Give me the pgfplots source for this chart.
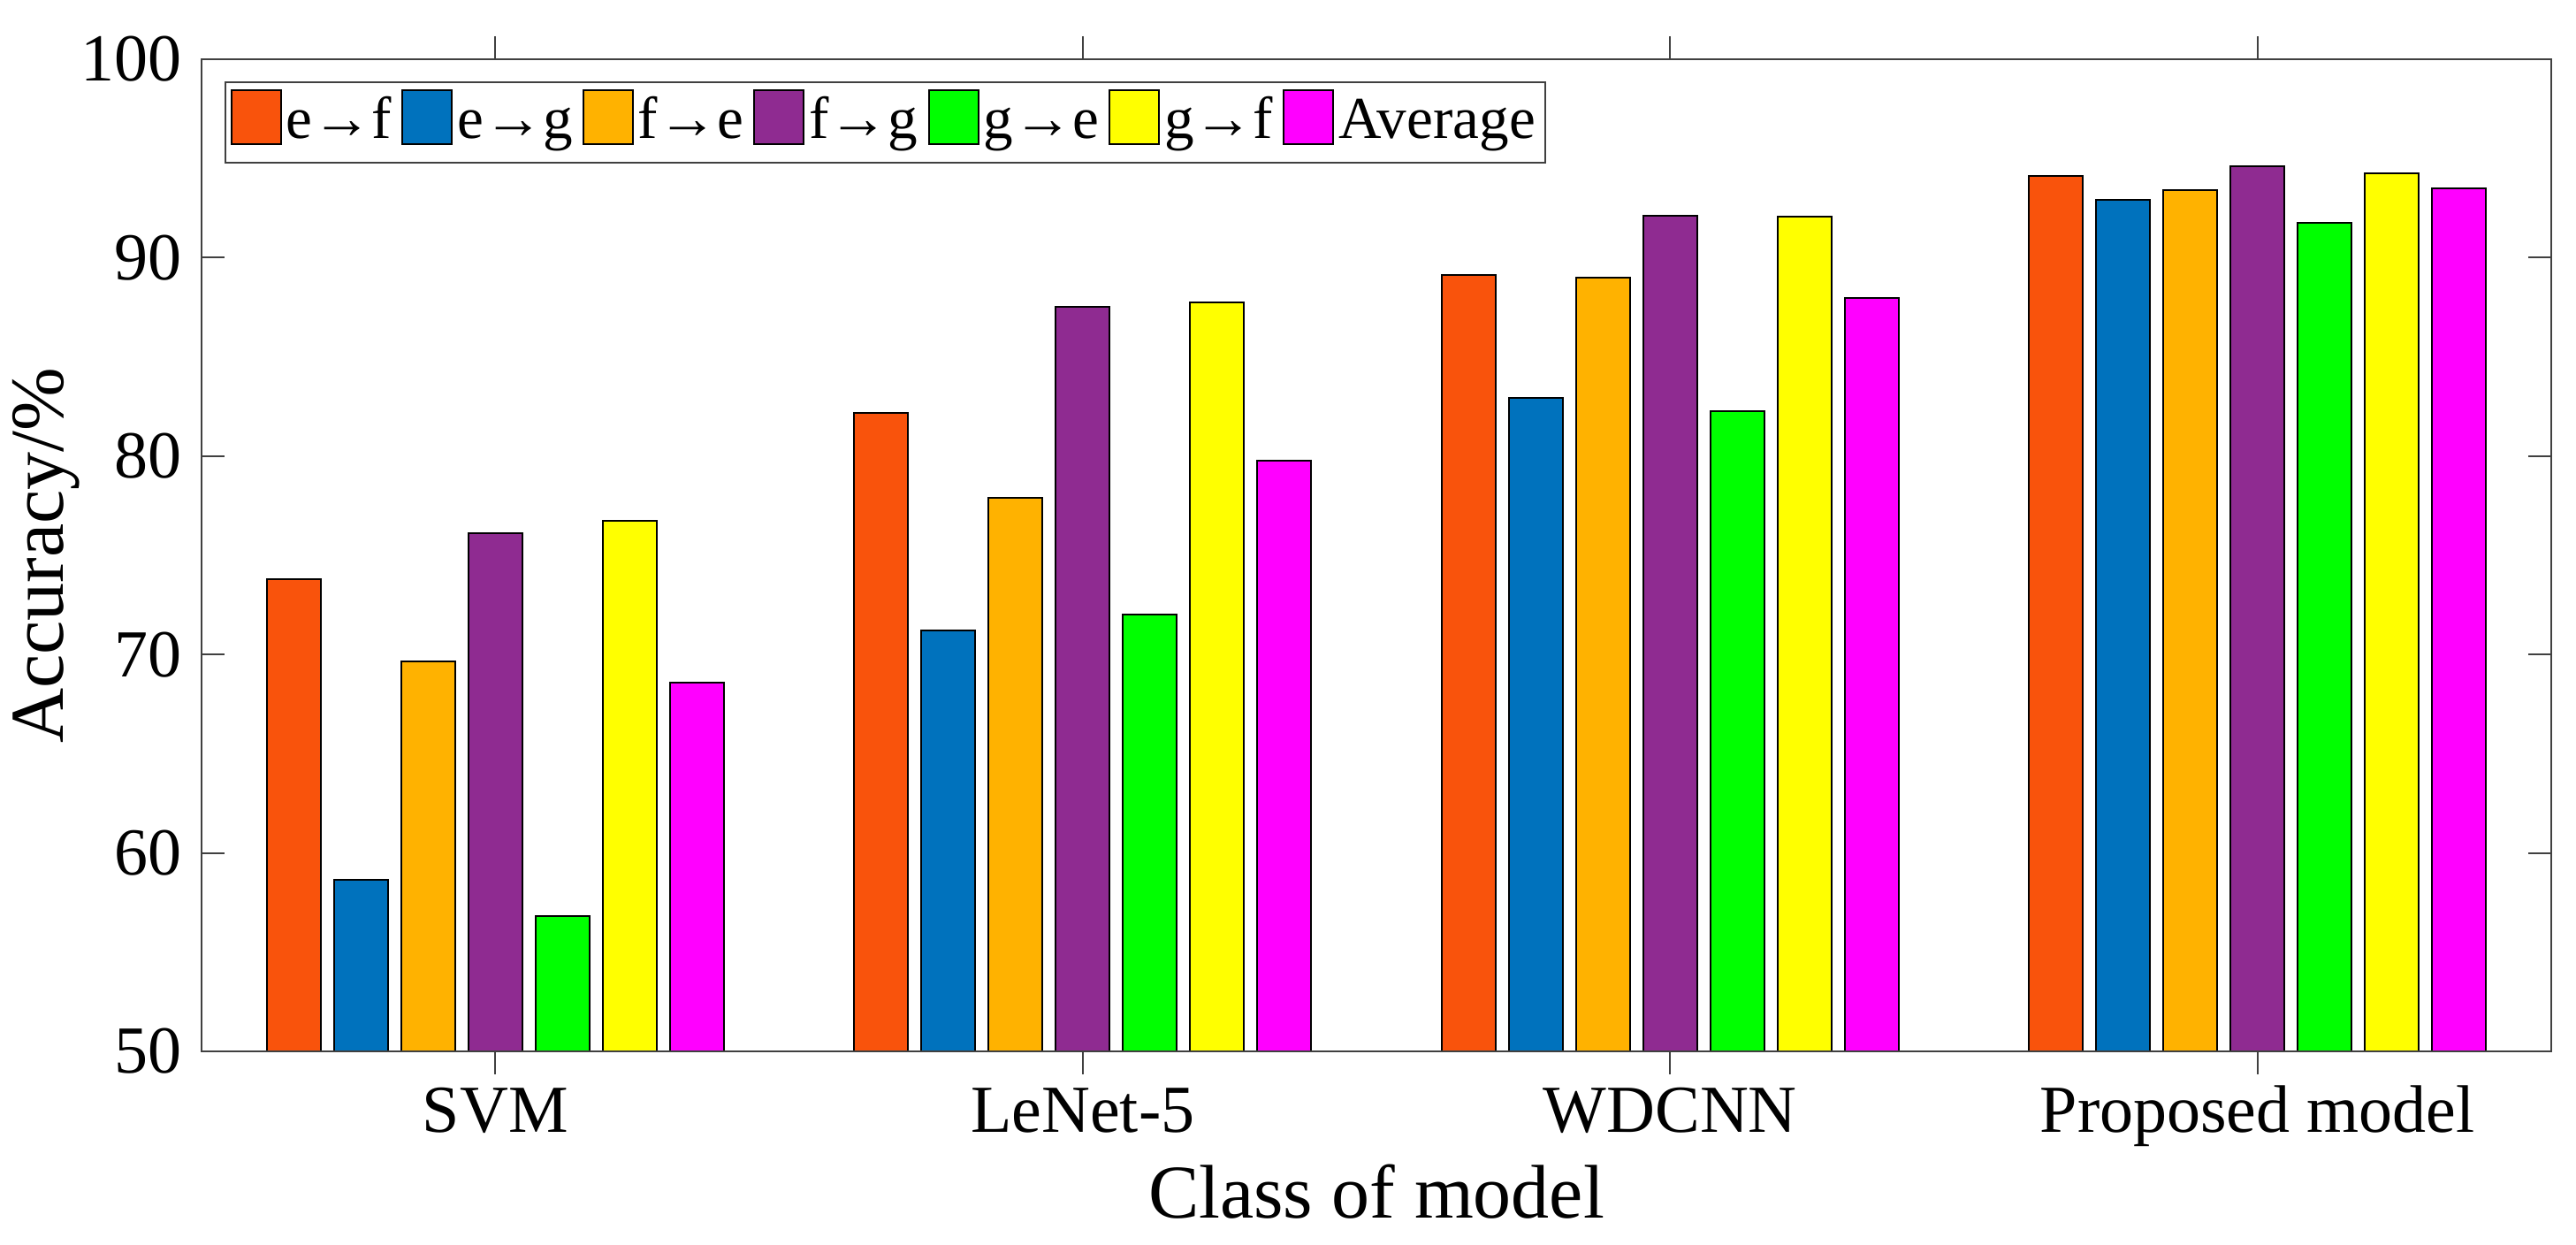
\documentclass[border=0pt]{standalone}
\usepackage{fontspec}
\setmainfont{Liberation Serif}
\usepackage{pgfplots}
\usepackage{pgfplotstable}
\pgfplotsset{compat=1.18}
\definecolor{cEF}{RGB}{249,83,12}
\definecolor{cEG}{RGB}{0,114,189}
\definecolor{cFE}{RGB}{255,178,0}
\definecolor{cFG}{RGB}{143,43,145}
\definecolor{cGE}{RGB}{0,255,0}
\definecolor{cGF}{RGB}{255,255,0}
\definecolor{cAV}{RGB}{255,0,255}
\definecolor{axc}{RGB}{64,64,64}
\pgfplotstableread{
x ef eg fe fg ge gf avg
1 73.78 58.64 69.63 76.11 56.83 76.73 68.60
2 82.18 71.21 77.90 87.53 72.00 87.75 79.75
3 89.12 82.93 89.00 92.13 82.28 92.07 87.96
4 94.13 92.90 93.40 94.60 91.77 94.26 93.50
}\datatab
\begin{document}
\begin{tikzpicture}
\begin{axis}[
  scale only axis,
  width=664.5pt, height=280.5pt,
  xmin=0.5, xmax=4.5, ymin=50, ymax=100,
  xtick={1,2,3,4},
  xticklabels={SVM,LeNet-5,WDCNN,Proposed model},
  ytick={50,60,70,80,90,100},
  /pgf/number format/assume math mode=true,
  tick align=inside,
  major tick length=6.5pt,
  axis line style={axc, line width=0.5pt},
  every tick/.style={axc, line width=0.5pt},
  axis on top,
  ybar=3.75pt,
  bar width=15.25pt,
  tick label style={font=\fontsize{19}{22}\selectfont, text=black},
  yticklabel style={inner sep=0pt, anchor=east, xshift=-5.5pt},
  xticklabel style={inner sep=0pt, anchor=base, yshift=-16.5pt},
  every axis x label/.style={at={(axis description cs:0.5,-0.1676)}, anchor=base, font=\fontsize{21.5}{25}\selectfont},
  every axis y label/.style={at={(axis description cs:-0.0587,0.5)}, rotate=90, anchor=base, font=\fontsize{21.5}{25}\selectfont},
  xlabel={Class of model},
  ylabel={Accuracy/\%},
  legend columns=7,
  legend cell align=left,
  legend image code/.code={\draw[#1] (0pt,-1.75pt) rectangle (14pt,13.5pt);},
  legend style={
    at={(axis description cs:0,1)}, anchor=north west,
    xshift=6.5pt, yshift=-6.35pt,
    draw=axc, line width=0.5pt,
    inner xsep=1.5pt, inner ysep=2pt,
    font=\fontsize{16.8}{19}\selectfont,
    nodes={inner xsep=1.2pt, inner ysep=0pt, anchor=base west, text depth=4.8pt},
    /tikz/every even column/.append style={column sep=1.6pt},
  },
]
\addplot[draw=black, line width=0.5pt, fill=cEF] table[x=x,y=ef]{\datatab};
\addplot[draw=black, line width=0.5pt, fill=cEG] table[x=x,y=eg]{\datatab};
\addplot[draw=black, line width=0.5pt, fill=cFE] table[x=x,y=fe]{\datatab};
\addplot[draw=black, line width=0.5pt, fill=cFG] table[x=x,y=fg]{\datatab};
\addplot[draw=black, line width=0.5pt, fill=cGE] table[x=x,y=ge]{\datatab};
\addplot[draw=black, line width=0.5pt, fill=cGF] table[x=x,y=gf]{\datatab};
\addplot[draw=black, line width=0.5pt, fill=cAV] table[x=x,y=avg]{\datatab};
\legend{e→f,e→g,f→e,f→g,g→e,g→f,Average}
\end{axis}
\pgfresetboundingbox
\useasboundingbox (-57pt,-54.75pt) rectangle (671.5pt,297.25pt);
\end{tikzpicture}
\end{document}
